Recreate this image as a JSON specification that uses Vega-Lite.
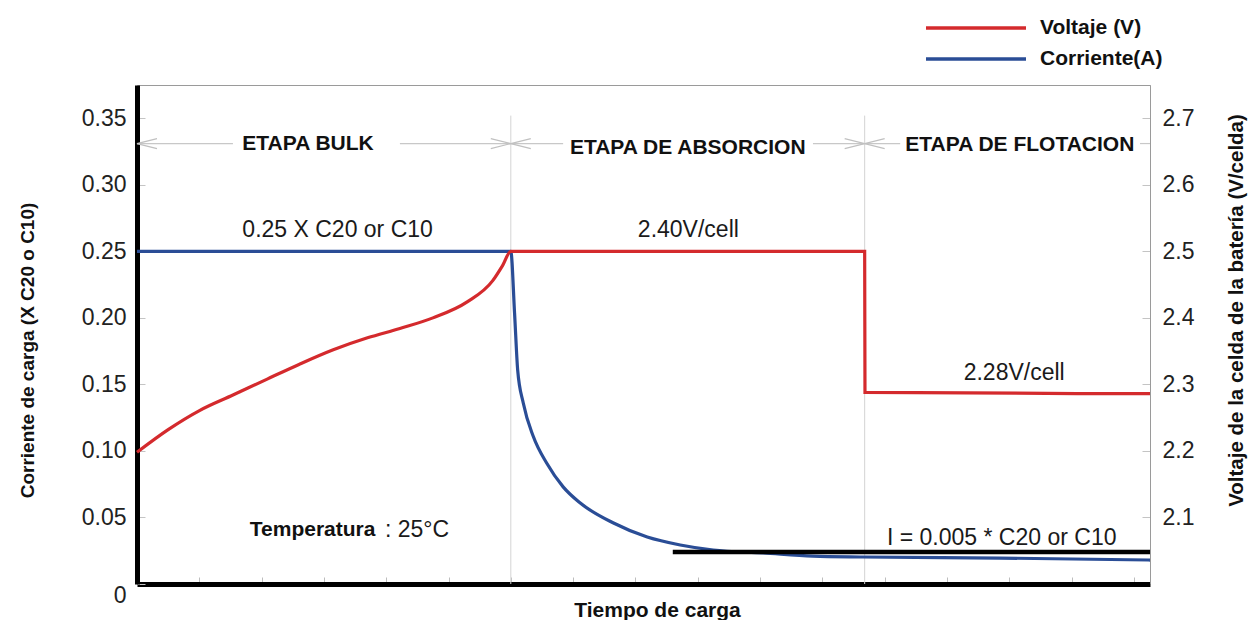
{
  "$schema": "https://vega.github.io/schema/vega-lite/v6.json",
  "width": 1013,
  "height": 499,
  "autosize": {"type": "none"},
  "padding": {"left": 137, "top": 85, "right": 101, "bottom": 36},
  "config": {"view": {"stroke": "#9a9a9a", "strokeWidth": 1}, "font": "Liberation Sans", "axis": {"grid": false}},
  "datasets": {
    "current": [
      {"t": 0, "I": 0.25, "serie": "Corriente(A)"},
      {"t": 6.0, "I": 0.25, "serie": "Corriente(A)"},
      {"t": 6.06, "I": 0.204, "serie": "Corriente(A)"},
      {"t": 6.11, "I": 0.161, "serie": "Corriente(A)"},
      {"t": 6.2, "I": 0.136, "serie": "Corriente(A)"},
      {"t": 6.36, "I": 0.111, "serie": "Corriente(A)"},
      {"t": 6.58, "I": 0.0905, "serie": "Corriente(A)"},
      {"t": 6.84, "I": 0.073, "serie": "Corriente(A)"},
      {"t": 7.11, "I": 0.061, "serie": "Corriente(A)"},
      {"t": 7.64, "I": 0.046, "serie": "Corriente(A)"},
      {"t": 8.19, "I": 0.0353, "serie": "Corriente(A)"},
      {"t": 8.72, "I": 0.0293, "serie": "Corriente(A)"},
      {"t": 9.25, "I": 0.0255, "serie": "Corriente(A)"},
      {"t": 10.05, "I": 0.0233, "serie": "Corriente(A)"},
      {"t": 10.85, "I": 0.021, "serie": "Corriente(A)"},
      {"t": 11.65, "I": 0.0203, "serie": "Corriente(A)"},
      {"t": 13.85, "I": 0.0195, "serie": "Corriente(A)"},
      {"t": 16.26, "I": 0.018, "serie": "Corriente(A)"}
    ],
    "voltage": [
      {"i": 0, "t": 0, "V": 2.198, "serie": "Voltaje (V)"},
      {"i": 1, "t": 0.5, "V": 2.232, "serie": "Voltaje (V)"},
      {"i": 2, "t": 1.01, "V": 2.261, "serie": "Voltaje (V)"},
      {"i": 3, "t": 1.54, "V": 2.284, "serie": "Voltaje (V)"},
      {"i": 4, "t": 2.09, "V": 2.308, "serie": "Voltaje (V)"},
      {"i": 5, "t": 2.6, "V": 2.33, "serie": "Voltaje (V)"},
      {"i": 6, "t": 3.15, "V": 2.352, "serie": "Voltaje (V)"},
      {"i": 7, "t": 3.7, "V": 2.37, "serie": "Voltaje (V)"},
      {"i": 8, "t": 4.22, "V": 2.384, "serie": "Voltaje (V)"},
      {"i": 9, "t": 4.75, "V": 2.4, "serie": "Voltaje (V)"},
      {"i": 10, "t": 5.3, "V": 2.424, "serie": "Voltaje (V)"},
      {"i": 11, "t": 5.71, "V": 2.456, "serie": "Voltaje (V)"},
      {"i": 12, "t": 5.87, "V": 2.479, "serie": "Voltaje (V)"},
      {"i": 13, "t": 6.0, "V": 2.5, "serie": "Voltaje (V)"},
      {"i": 14, "t": 11.68, "V": 2.5, "serie": "Voltaje (V)"},
      {"i": 15, "t": 11.685, "V": 2.288, "serie": "Voltaje (V)"},
      {"i": 16, "t": 16.26, "V": 2.286, "serie": "Voltaje (V)"}
    ],
    "grid": [
      {"t": 6.0, "y0": 0, "y1": 0.352},
      {"t": 11.68, "y0": 0, "y1": 0.352}
    ],
    "arrowSeg": [
      {"t0": 0, "t1": 1.54, "I": 0.331},
      {"t0": 4.22, "t1": 6.0, "I": 0.331},
      {"t0": 6.0, "t1": 6.84, "I": 0.331},
      {"t0": 10.85, "t1": 11.68, "I": 0.331},
      {"t0": 11.68, "t1": 12.25, "I": 0.331},
      {"t0": 16.1, "t1": 16.26, "I": 0.331}
    ],
    "headLeft": [
      {"t": 0, "I": 0.331},
      {"t": 6.0, "I": 0.331},
      {"t": 11.68, "I": 0.331}
    ],
    "headRight": [
      {"t": 6.0, "I": 0.331},
      {"t": 11.68, "I": 0.331}
    ],
    "threshold": [
      {"t0": 8.6, "t1": 16.26, "I": 0.024}
    ],
    "stageLabels": [
      {"t": 2.745, "I": 0.331, "label": "ETAPA BULK"},
      {"t": 8.84, "I": 0.328, "label": "ETAPA DE ABSORCION"},
      {"t": 14.17, "I": 0.3296, "label": "ETAPA DE FLOTACION"}
    ],
    "valueLabels": [
      {"t": 3.22, "I": 0.2658, "label": "0.25 X C20 or C10"},
      {"t": 8.85, "I": 0.2658, "label": "2.40V/cell"},
      {"t": 14.08, "I": 0.1584, "label": "2.28V/cell"},
      {"t": 13.88, "I": 0.0345, "label": "I = 0.005 * C20 or C10"}
    ],
    "tempBold": [
      {"t": 1.81, "I": 0.0405, "label": "Temperatura"}
    ],
    "tempReg": [
      {"t": 3.98, "I": 0.0405, "label": ": 25°C"}
    ]
  },
  "layer": [
    {
      "layer": [
        {
          "data": {"name": "grid"},
          "mark": {"type": "rule", "color": "#d4d4d4", "strokeWidth": 1},
          "encoding": {
            "x": {"field": "t", "type": "quantitative", "scale": {"domain": [0, 16.26], "nice": false, "zero": false}},
            "y": {"field": "y0", "type": "quantitative", "scale": {"domain": [0, 0.375], "nice": false, "zero": false}},
            "y2": {"field": "y1"}
          }
        },
        {
          "data": {"name": "arrowSeg"},
          "mark": {"type": "rule", "color": "#c8c8c8", "strokeWidth": 1.2},
          "encoding": {
            "x": {"field": "t0", "type": "quantitative", "scale": {"domain": [0, 16.26], "nice": false, "zero": false}},
            "x2": {"field": "t1"},
            "y": {"field": "I", "type": "quantitative", "scale": {"domain": [0, 0.375], "nice": false, "zero": false}}
          }
        },
        {
          "data": {"name": "headLeft"},
          "mark": {"type": "point", "shape": "M-1,-0.25L0,0L-1,0.25", "size": 1600, "angle": 180, "filled": false, "stroke": "#c0c0c0", "strokeWidth": 1.2, "opacity": 1},
          "encoding": {
            "x": {"field": "t", "type": "quantitative", "scale": {"domain": [0, 16.26], "nice": false, "zero": false}},
            "y": {"field": "I", "type": "quantitative", "scale": {"domain": [0, 0.375], "nice": false, "zero": false}}
          }
        },
        {
          "data": {"name": "headRight"},
          "mark": {"type": "point", "shape": "M-1,-0.25L0,0L-1,0.25", "size": 1600, "angle": 0, "filled": false, "stroke": "#c0c0c0", "strokeWidth": 1.2, "opacity": 1},
          "encoding": {
            "x": {"field": "t", "type": "quantitative", "scale": {"domain": [0, 16.26], "nice": false, "zero": false}},
            "y": {"field": "I", "type": "quantitative", "scale": {"domain": [0, 0.375], "nice": false, "zero": false}}
          }
        },
        {
          "data": {"name": "current"},
          "mark": {"type": "line", "strokeWidth": 3.2, "interpolate": "monotone"},
          "encoding": {
            "x": {
              "field": "t", "type": "quantitative",
              "scale": {"domain": [0, 16.26], "nice": false, "zero": false},
              "axis": {
                "orient": "bottom",
                "values": [1, 2, 3, 4, 5, 6, 7, 8, 9, 10, 11, 12, 13, 14, 15, 16],
                "labels": false,
                "grid": false,
                "tickSize": -7,
                "tickColor": "#bdbdbd",
                "tickWidth": 1,
                "domainColor": "#000000",
                "domainWidth": 5,
                "title": "Tiempo de carga",
                "titleFont": "Liberation Sans",
                "titleFontSize": 21,
                "titleFontWeight": "bold",
                "titleColor": "#111111",
                "titleX": 520,
                "titleY": 26,
                "titleAlign": "center",
                "titleBaseline": "middle"
              }
            },
            "y": {
              "field": "I", "type": "quantitative",
              "scale": {"domain": [0, 0.375], "nice": false, "zero": false},
              "axis": {
                "orient": "left",
                "values": [0, 0.05, 0.1, 0.15, 0.2, 0.25, 0.3, 0.35],
                "labelExpr": "datum.value === 0 ? '0' : format(datum.value, '.2f')",
                "labelFont": "Liberation Sans",
                "labelFontSize": 23,
                "labelColor": "#222222",
                "labelPadding": 19,
                "labelFlush": false,
                "labelOverlap": false,
                "labelBaseline": {"condition": {"test": "datum.value === 0", "value": "top"}, "value": "middle"},
                "grid": false,
                "tickSize": -8,
                "tickColor": "#c4c4c4",
                "tickWidth": 1,
                "domainColor": "#000000",
                "domainWidth": 5,
                "title": "Corriente de carga (X C20 o C10)",
                "titleFont": "Liberation Sans",
                "titleFontSize": 19,
                "titleFontWeight": "bold",
                "titleColor": "#111111",
                "titleAngle": 270,
                "titleX": -110,
                "titleY": 265,
                "titleAlign": "center",
                "titleBaseline": "middle"
              }
            },
            "color": {
              "field": "serie", "type": "nominal",
              "scale": {"domain": ["Voltaje (V)", "Corriente(A)"], "range": ["#d42a2d", "#2a4d96"]},
              "legend": {
                "orient": "none", "legendX": 827, "legendY": -69, "title": null,
                "symbolType": "M-5,0L5,0", "symbolSize": 400, "symbolStrokeWidth": 3.5,
                "labelFont": "Liberation Sans", "labelFontSize": 21, "labelFontWeight": "bold",
                "labelColor": "#111111", "labelOffset": 52, "rowPadding": 9, "direction": "vertical"
              }
            }
          }
        },
        {
          "data": {"name": "threshold"},
          "mark": {"type": "rule", "color": "#000000", "strokeWidth": 4.5},
          "encoding": {
            "x": {"field": "t0", "type": "quantitative", "scale": {"domain": [0, 16.26], "nice": false, "zero": false}},
            "x2": {"field": "t1"},
            "y": {"field": "I", "type": "quantitative", "scale": {"domain": [0, 0.375], "nice": false, "zero": false}}
          }
        },
        {
          "data": {"name": "stageLabels"},
          "mark": {"type": "text", "font": "Liberation Sans", "fontSize": 21, "fontWeight": "bold", "color": "#111111", "align": "center", "baseline": "middle"},
          "encoding": {
            "x": {"field": "t", "type": "quantitative", "scale": {"domain": [0, 16.26], "nice": false, "zero": false}},
            "y": {"field": "I", "type": "quantitative", "scale": {"domain": [0, 0.375], "nice": false, "zero": false}},
            "text": {"field": "label"}
          }
        },
        {
          "data": {"name": "valueLabels"},
          "mark": {"type": "text", "font": "Liberation Sans", "fontSize": 23, "color": "#1a1a1a", "align": "center", "baseline": "middle"},
          "encoding": {
            "x": {"field": "t", "type": "quantitative", "scale": {"domain": [0, 16.26], "nice": false, "zero": false}},
            "y": {"field": "I", "type": "quantitative", "scale": {"domain": [0, 0.375], "nice": false, "zero": false}},
            "text": {"field": "label"}
          }
        },
        {
          "data": {"name": "tempBold"},
          "mark": {"type": "text", "font": "Liberation Sans", "fontSize": 21, "fontWeight": "bold", "color": "#111111", "align": "left", "baseline": "middle"},
          "encoding": {
            "x": {"field": "t", "type": "quantitative", "scale": {"domain": [0, 16.26], "nice": false, "zero": false}},
            "y": {"field": "I", "type": "quantitative", "scale": {"domain": [0, 0.375], "nice": false, "zero": false}},
            "text": {"field": "label"}
          }
        },
        {
          "data": {"name": "tempReg"},
          "mark": {"type": "text", "font": "Liberation Sans", "fontSize": 23, "color": "#1a1a1a", "align": "left", "baseline": "middle"},
          "encoding": {
            "x": {"field": "t", "type": "quantitative", "scale": {"domain": [0, 16.26], "nice": false, "zero": false}},
            "y": {"field": "I", "type": "quantitative", "scale": {"domain": [0, 0.375], "nice": false, "zero": false}},
            "text": {"field": "label"}
          }
        }
      ]
    },
    {
      "layer": [
        {
          "data": {"name": "voltage"},
          "mark": {"type": "line", "strokeWidth": 3.2, "interpolate": "monotone"},
          "encoding": {
            "x": {"field": "t", "type": "quantitative", "scale": {"domain": [0, 16.26], "nice": false, "zero": false}},
            "y": {
              "field": "V", "type": "quantitative",
              "scale": {"domain": [2.0, 2.75], "nice": false, "zero": false},
              "axis": {
                "orient": "right",
                "values": [2.1, 2.2, 2.3, 2.4, 2.5, 2.6, 2.7],
                "format": ".1f",
                "labelFont": "Liberation Sans",
                "labelFontSize": 23,
                "labelColor": "#222222",
                "labelPadding": 20,
                "labelFlush": false,
                "labelOverlap": false,
                "grid": false,
                "tickSize": -8,
                "tickColor": "#c4c4c4",
                "tickWidth": 1,
                "domainColor": "#9a9a9a",
                "domainWidth": 1,
                "title": "Voltaje de la celda de la batería (V/celda)",
                "titleFont": "Liberation Sans",
                "titleFontSize": 20.5,
                "titleFontWeight": "bold",
                "titleColor": "#111111",
                "titleAngle": 270,
                "titleX": 86.5,
                "titleY": 225,
                "titleAlign": "center",
                "titleBaseline": "middle"
              }
            },
            "order": {"field": "i", "type": "quantitative"},
            "color": {
              "field": "serie", "type": "nominal",
              "scale": {"domain": ["Voltaje (V)", "Corriente(A)"], "range": ["#d42a2d", "#2a4d96"]},
              "legend": {
                "orient": "none", "legendX": 827, "legendY": -69, "title": null,
                "symbolType": "M-5,0L5,0", "symbolSize": 400, "symbolStrokeWidth": 3.5,
                "labelFont": "Liberation Sans", "labelFontSize": 21, "labelFontWeight": "bold",
                "labelColor": "#111111", "labelOffset": 52, "rowPadding": 9, "direction": "vertical"
              }
            }
          }
        }
      ]
    }
  ],
  "resolve": {"scale": {"y": "independent"}}
}
